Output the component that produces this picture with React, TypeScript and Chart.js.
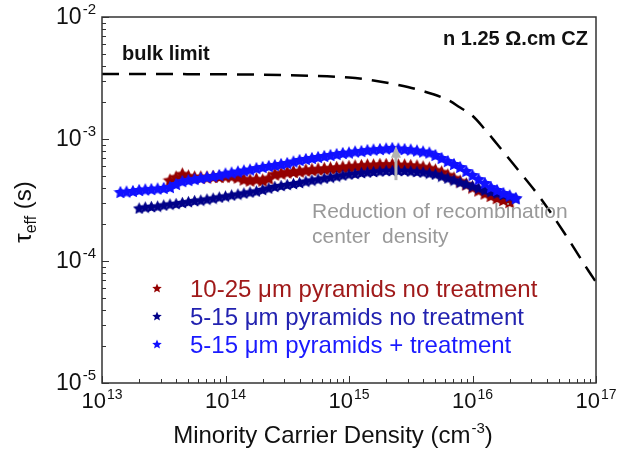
import React, { useEffect, useRef } from "react";
import { Chart, registerables } from "chart.js";

Chart.register(...registerables);

// ---------- data ----------
const bulkX = [1e13, 1e14, 3.98e14, 1e15, 1.58e15, 2.51e15, 3.98e15, 6.31e15, 7.94e15, 1e16, 1.26e16, 1.58e16, 2.24e16, 3.55e16, 5.62e16, 8.71e16, 1e17];
const bulkY = [3.41e-3, 3.39e-3, 3.31e-3, 3.19e-3, 3.02e-3, 2.77e-3, 2.47e-3, 2.09e-3, 1.81e-3, 1.55e-3, 1.2e-3, 9.1e-4, 5.89e-4, 3.28e-4, 1.66e-4, 8.28e-5, 6.73e-5];

const treatX = [
  1.41e13, 1.58e13, 1.78e13, 2.0e13, 2.24e13, 2.51e13, 2.82e13, 3.16e13, 3.55e13, 3.98e13, 4.47e13, 5.01e13, 5.62e13, 6.31e13, 7.08e13, 7.94e13, 8.91e13,
  1.0e14, 1.12e14, 1.26e14, 1.41e14, 1.58e14, 1.78e14, 2.0e14, 2.24e14, 2.51e14, 2.82e14, 3.16e14, 3.55e14, 3.98e14, 4.47e14, 5.01e14, 5.62e14, 6.31e14, 7.08e14, 7.94e14, 8.91e14,
  1.0e15, 1.12e15, 1.26e15, 1.41e15, 1.58e15, 1.78e15, 2.0e15, 2.24e15, 2.51e15, 2.82e15, 3.16e15, 3.55e15, 3.98e15, 4.47e15, 5.01e15, 5.62e15, 6.31e15, 7.08e15, 7.94e15, 8.91e15,
  1.0e16, 1.12e16, 1.26e16, 1.41e16, 1.58e16, 1.78e16, 2.0e16, 2.24e16,
];
const treatY = [
  3.68e-4, 3.71e-4, 3.75e-4, 3.82e-4, 3.86e-4, 3.89e-4, 3.93e-4, 3.97e-4, 4.04e-4, 4.28e-4, 4.52e-4, 4.61e-4, 4.7e-4, 4.79e-4, 4.88e-4, 4.97e-4, 5.07e-4,
  5.22e-4, 5.31e-4, 5.42e-4, 5.52e-4, 5.62e-4, 5.78e-4, 5.9e-4, 6.01e-4, 6.12e-4, 6.24e-4, 6.36e-4, 6.54e-4, 6.73e-4, 6.86e-4, 6.99e-4, 7.12e-4, 7.26e-4, 7.4e-4, 7.53e-4, 7.68e-4,
  7.75e-4, 7.9e-4, 7.97e-4, 8.12e-4, 8.2e-4, 8.28e-4, 8.36e-4, 8.44e-4, 8.36e-4, 8.28e-4, 8.2e-4, 8.05e-4, 7.9e-4, 7.75e-4, 7.4e-4, 6.99e-4, 6.6e-4, 6.24e-4, 5.9e-4, 5.47e-4,
  5.07e-4, 4.7e-4, 4.36e-4, 4.04e-4, 3.82e-4, 3.61e-4, 3.45e-4, 3.28e-4,
];

const smallX = [
  2.0e13, 2.24e13, 2.51e13, 2.82e13, 3.16e13, 3.55e13, 3.98e13, 4.47e13, 5.01e13, 5.62e13, 6.31e13, 7.08e13, 7.94e13, 8.91e13,
  1.0e14, 1.12e14, 1.26e14, 1.41e14, 1.58e14, 1.78e14, 2.0e14, 2.24e14, 2.51e14, 2.82e14, 3.16e14, 3.55e14, 3.98e14, 4.47e14, 5.01e14, 5.62e14, 6.31e14, 7.08e14, 7.94e14, 8.91e14,
  1.0e15, 1.12e15, 1.26e15, 1.41e15, 1.58e15, 1.78e15, 2.0e15, 2.24e15, 2.51e15, 2.82e15, 3.16e15, 3.55e15, 3.98e15, 4.47e15, 5.01e15, 5.62e15, 6.31e15, 7.08e15, 7.94e15, 8.91e15,
  1.0e16, 1.12e16, 1.26e16, 1.41e16, 1.58e16, 1.78e16, 2.0e16, 2.24e16,
];
const smallY = [
  2.72e-4, 2.77e-4, 2.8e-4, 2.82e-4, 2.88e-4, 2.93e-4, 2.96e-4, 3.02e-4, 3.07e-4, 3.13e-4, 3.16e-4, 3.22e-4, 3.28e-4, 3.35e-4,
  3.41e-4, 3.48e-4, 3.54e-4, 3.61e-4, 3.68e-4, 3.75e-4, 3.86e-4, 3.97e-4, 4.08e-4, 4.16e-4, 4.24e-4, 4.32e-4, 4.4e-4, 4.52e-4, 4.61e-4, 4.7e-4, 4.79e-4, 4.88e-4, 4.97e-4, 5.07e-4,
  5.17e-4, 5.22e-4, 5.31e-4, 5.37e-4, 5.42e-4, 5.47e-4, 5.52e-4, 5.52e-4, 5.52e-4, 5.52e-4, 5.47e-4, 5.42e-4, 5.37e-4, 5.26e-4, 5.17e-4, 4.97e-4, 4.79e-4, 4.61e-4, 4.44e-4, 4.28e-4,
  4.12e-4, 3.97e-4, 3.82e-4, 3.71e-4, 3.61e-4, 3.51e-4, 3.41e-4, 3.28e-4,
];

const largeX = [
  3.55e13, 3.98e13, 4.47e13, 5.01e13, 5.62e13, 6.31e13, 7.08e13, 7.94e13, 8.91e13,
  1.0e14, 1.12e14, 1.26e14, 1.41e14, 1.58e14, 1.78e14, 2.0e14, 2.24e14, 2.51e14, 2.82e14, 3.16e14, 3.55e14, 3.98e14, 4.47e14, 5.01e14, 5.62e14, 6.31e14, 7.08e14, 7.94e14, 8.91e14,
  1.0e15, 1.12e15, 1.26e15, 1.41e15, 1.58e15, 1.78e15, 2.0e15, 2.24e15, 2.51e15, 2.82e15, 3.16e15, 3.55e15, 3.98e15, 4.47e15, 5.01e15, 5.62e15, 6.31e15, 7.08e15, 7.94e15, 8.91e15,
  1.0e16, 1.12e16, 1.26e16, 1.41e16, 1.58e16, 1.78e16, 2.0e16,
];
const largeY = [
  4.61e-4, 4.88e-4, 5.17e-4, 4.97e-4, 4.88e-4, 4.88e-4, 4.88e-4, 4.93e-4, 4.93e-4,
  4.97e-4, 4.97e-4, 4.88e-4, 4.7e-4, 4.61e-4, 4.7e-4, 4.61e-4, 4.79e-4, 5.17e-4, 5.26e-4, 5.37e-4, 5.42e-4, 5.47e-4, 5.57e-4, 5.62e-4, 5.68e-4, 5.73e-4, 5.78e-4, 5.84e-4, 5.9e-4,
  5.95e-4, 6.01e-4, 6.06e-4, 6.12e-4, 6.12e-4, 6.18e-4, 6.18e-4, 6.18e-4, 6.12e-4, 6.12e-4, 6.06e-4, 6.01e-4, 5.9e-4, 5.78e-4, 5.57e-4, 5.37e-4, 5.07e-4, 4.79e-4, 4.52e-4, 4.28e-4,
  4.04e-4, 3.82e-4, 3.61e-4, 3.45e-4, 3.31e-4, 3.19e-4, 3.07e-4,
];

const xMin = 1e13, xMax = 1e17, yMin = 1e-5, yMax = 1e-2;
const xDecades = [13, 14, 15, 16, 17];
const yDecades = [-5, -4, -3, -2];
const arrowX = 2.4e15, arrowFrom = 4.6e-4, arrowTo = 8.8e-4;

const legendLabels = ["10-25 μm pyramids no treatment", "5-15 μm pyramids no treatment", "5-15 μm pyramids + treatment"];
const legendTextColors = ["#a01a1a", "#2222b0", "#1a1aff"];
const COL_LARGE = "#940000";
const COL_SMALL = "#000088";
const COL_TREAT = "#1010ff";

const FONT = '"Liberation Sans", Arial, sans-serif';

function makeStar(color: string, size: number, inner = 0.5) {
  const c = document.createElement("canvas");
  c.width = size;
  c.height = size;
  const g = c.getContext("2d")!;
  const R = size / 2;
  const r = R * inner;
  const cx = size / 2;
  const cy = size / 2 + R * 0.1;
  g.beginPath();
  for (let i = 0; i < 10; i++) {
    const ang = -Math.PI / 2 + (i * Math.PI) / 5;
    const rad = i % 2 === 0 ? R : r;
    g.lineTo(cx + rad * Math.cos(ang), cy + rad * Math.sin(ang));
  }
  g.closePath();
  g.fillStyle = color;
  g.fill();
  return c;
}

function drawPow(ctx: CanvasRenderingContext2D, x: number, baseY: number, exp: string, big: number, small: number, align: "center" | "right") {
  ctx.font = `${big}px ${FONT}`;
  const w1 = ctx.measureText("10").width;
  ctx.font = `${small}px ${FONT}`;
  const w2 = ctx.measureText(exp).width;
  const total = w1 + 1 + w2;
  const start = align === "center" ? x - total / 2 : x - total;
  ctx.textAlign = "left";
  ctx.textBaseline = "alphabetic";
  ctx.font = `${big}px ${FONT}`;
  ctx.fillText("10", start, baseY);
  ctx.font = `${small}px ${FONT}`;
  ctx.fillText(exp, start + w1 + 1, baseY - big * 0.42);
}

export default function App() {
  const ref = useRef<HTMLCanvasElement | null>(null);

  useEffect(() => {
    if (!ref.current) return;
    const starLarge = makeStar(COL_LARGE, 15);
    const starSmall = makeStar(COL_SMALL, 13);
    const starTreat = makeStar(COL_TREAT, 14);
    const legendStars = [makeStar(COL_LARGE, 10, 0.45), makeStar(COL_SMALL, 10, 0.45), makeStar(COL_TREAT, 10, 0.45)];

    const overlay = {
      id: "overlay",
      afterDraw(chart: any) {
        const ctx: CanvasRenderingContext2D = chart.ctx;
        const a = chart.chartArea;
        const xs = chart.scales.x;
        const ys = chart.scales.y;
        ctx.save();

        // arrow
        const ax = xs.getPixelForValue(arrowX);
        const ay0 = ys.getPixelForValue(arrowFrom);
        const ay1 = ys.getPixelForValue(arrowTo);
        ctx.strokeStyle = "#b3b3b3";
        ctx.fillStyle = "#b3b3b3";
        ctx.lineWidth = 3;
        ctx.beginPath();
        ctx.moveTo(ax, ay0);
        ctx.lineTo(ax, ay1 + 10);
        ctx.stroke();
        ctx.beginPath();
        ctx.moveTo(ax, ay1);
        ctx.lineTo(ax - 5, ay1 + 12);
        ctx.lineTo(ax + 5, ay1 + 12);
        ctx.closePath();
        ctx.fill();

        // annotation text
        ctx.fillStyle = "#999999";
        ctx.font = `21px ${FONT}`;
        ctx.textAlign = "left";
        ctx.textBaseline = "alphabetic";
        ctx.fillText("Reduction of recombination", 312, 218);
        ctx.fillText("center  density", 312, 243);

        ctx.fillStyle = "#111";
        ctx.font = `bold 20px ${FONT}`;
        ctx.fillText("bulk limit", 122, 60);
        ctx.textAlign = "right";
        ctx.fillText("n 1.25 Ω.cm CZ", 588, 45);

        // legend
        ctx.textAlign = "left";
        ctx.font = `24px ${FONT}`;
        const legY = [297, 325, 353];
        legendLabels.forEach((lab, i) => {
          const s = legendStars[i];
          ctx.drawImage(s, 157 - s.width / 2, legY[i] - 9 - s.height / 2);
          ctx.fillStyle = legendTextColors[i];
          ctx.fillText(lab, 190, legY[i]);
        });

        // frame
        ctx.strokeStyle = "#333";
        ctx.lineWidth = 1.5;
        ctx.strokeRect(a.left, a.top, a.right - a.left, a.bottom - a.top);
        ctx.lineWidth = 1;
        ctx.beginPath();
        for (let e = 13; e <= 17; e++) {
          for (let m = 1; m <= 9; m++) {
            const v = m * Math.pow(10, e);
            if (v > xMax * 1.0001) break;
            const px = Math.round(xs.getPixelForValue(v)) + 0.5;
            const len = m === 1 ? 7 : 4;
            ctx.moveTo(px, a.bottom);
            ctx.lineTo(px, a.bottom - len);
          }
        }
        for (let e = -5; e <= -2; e++) {
          for (let m = 1; m <= 9; m++) {
            const v = m * Math.pow(10, e);
            if (v > yMax * 1.0001) break;
            const py = Math.round(ys.getPixelForValue(v)) + 0.5;
            const len = m === 1 ? 7 : 4;
            ctx.moveTo(a.left, py);
            ctx.lineTo(a.left + len, py);
          }
        }
        ctx.stroke();

        // tick labels
        ctx.fillStyle = "#111";
        xDecades.forEach((e) => {
          const px = xs.getPixelForValue(Math.pow(10, e));
          drawPow(ctx, px, 408, String(e), 22, 14, "center");
        });
        yDecades.forEach((e) => {
          const py = ys.getPixelForValue(Math.pow(10, e));
          drawPow(ctx, 96, py + 7, String(e), 23, 15, "right");
        });

        // x title
        ctx.textAlign = "left";
        ctx.font = `24px ${FONT}`;
        const t1 = "Minority Carrier Density (cm";
        const w1 = ctx.measureText(t1).width;
        ctx.font = `15px ${FONT}`;
        const w2 = ctx.measureText("-3").width;
        ctx.font = `24px ${FONT}`;
        const w3 = ctx.measureText(")").width;
        const tx = 333 - (w1 + w2 + w3 + 1) / 2;
        ctx.fillText(t1, tx, 443);
        ctx.font = `15px ${FONT}`;
        ctx.fillText("-3", tx + w1 + 1, 433);
        ctx.font = `24px ${FONT}`;
        ctx.fillText(")", tx + w1 + w2 + 1, 443);

        // y title
        ctx.save();
        ctx.translate(31, 212);
        ctx.rotate(-Math.PI / 2);
        ctx.font = `24px ${FONT}`;
        const wt = ctx.measureText("τ").width;
        ctx.font = `16px ${FONT}`;
        const we = ctx.measureText("eff").width;
        ctx.font = `24px ${FONT}`;
        const ws = ctx.measureText(" (s)").width;
        const sx = -(wt + we + ws) / 2;
        ctx.fillText("τ", sx, 0);
        ctx.font = `16px ${FONT}`;
        ctx.fillText("eff", sx + wt, 5);
        ctx.font = `24px ${FONT}`;
        ctx.fillText(" (s)", sx + wt + we, 0);
        ctx.restore();

        ctx.restore();
      },
    };

    const toPts = (xs: number[], ys: number[]) => xs.map((x, i) => ({ x, y: ys[i] }));

    const chart = new Chart(ref.current, {
      type: "scatter",
      data: {
        datasets: [
          { label: legendLabels[2], data: toPts(treatX, treatY), pointStyle: starTreat as any, pointRadius: 6, showLine: false, backgroundColor: COL_TREAT, borderColor: COL_TREAT },
          { label: legendLabels[1], data: toPts(smallX, smallY), pointStyle: starSmall as any, pointRadius: 6, showLine: false, backgroundColor: COL_SMALL, borderColor: COL_SMALL },
          { label: legendLabels[0], data: toPts(largeX, largeY), pointStyle: starLarge as any, pointRadius: 6, showLine: false, backgroundColor: COL_LARGE, borderColor: COL_LARGE },
          {
            label: "bulk limit",
            data: toPts(bulkX, bulkY),
            showLine: true,
            pointRadius: 0,
            borderColor: "#000",
            borderWidth: 2.5,
            borderDash: [17, 10],
            cubicInterpolationMode: "monotone",
            fill: false,
          } as any,
        ],
      },
      options: {
        animation: false,
        responsive: false,
        events: [],
        layout: { padding: { left: 102, top: 17, right: 22, bottom: 74 } },
        plugins: { legend: { display: false }, tooltip: { enabled: false } },
        scales: {
          x: { type: "logarithmic", min: xMin, max: xMax, display: false },
          y: { type: "logarithmic", min: yMin, max: yMax, display: false },
        },
      },
      plugins: [overlay],
    });
    return () => chart.destroy();
  }, []);

  return (
    <div style={{ position: "absolute", left: 0, top: 0, width: 618, height: 457, background: "#fff" }}>
      <canvas ref={ref} width={618} height={457} style={{ display: "block" }} />
    </div>
  );
}
